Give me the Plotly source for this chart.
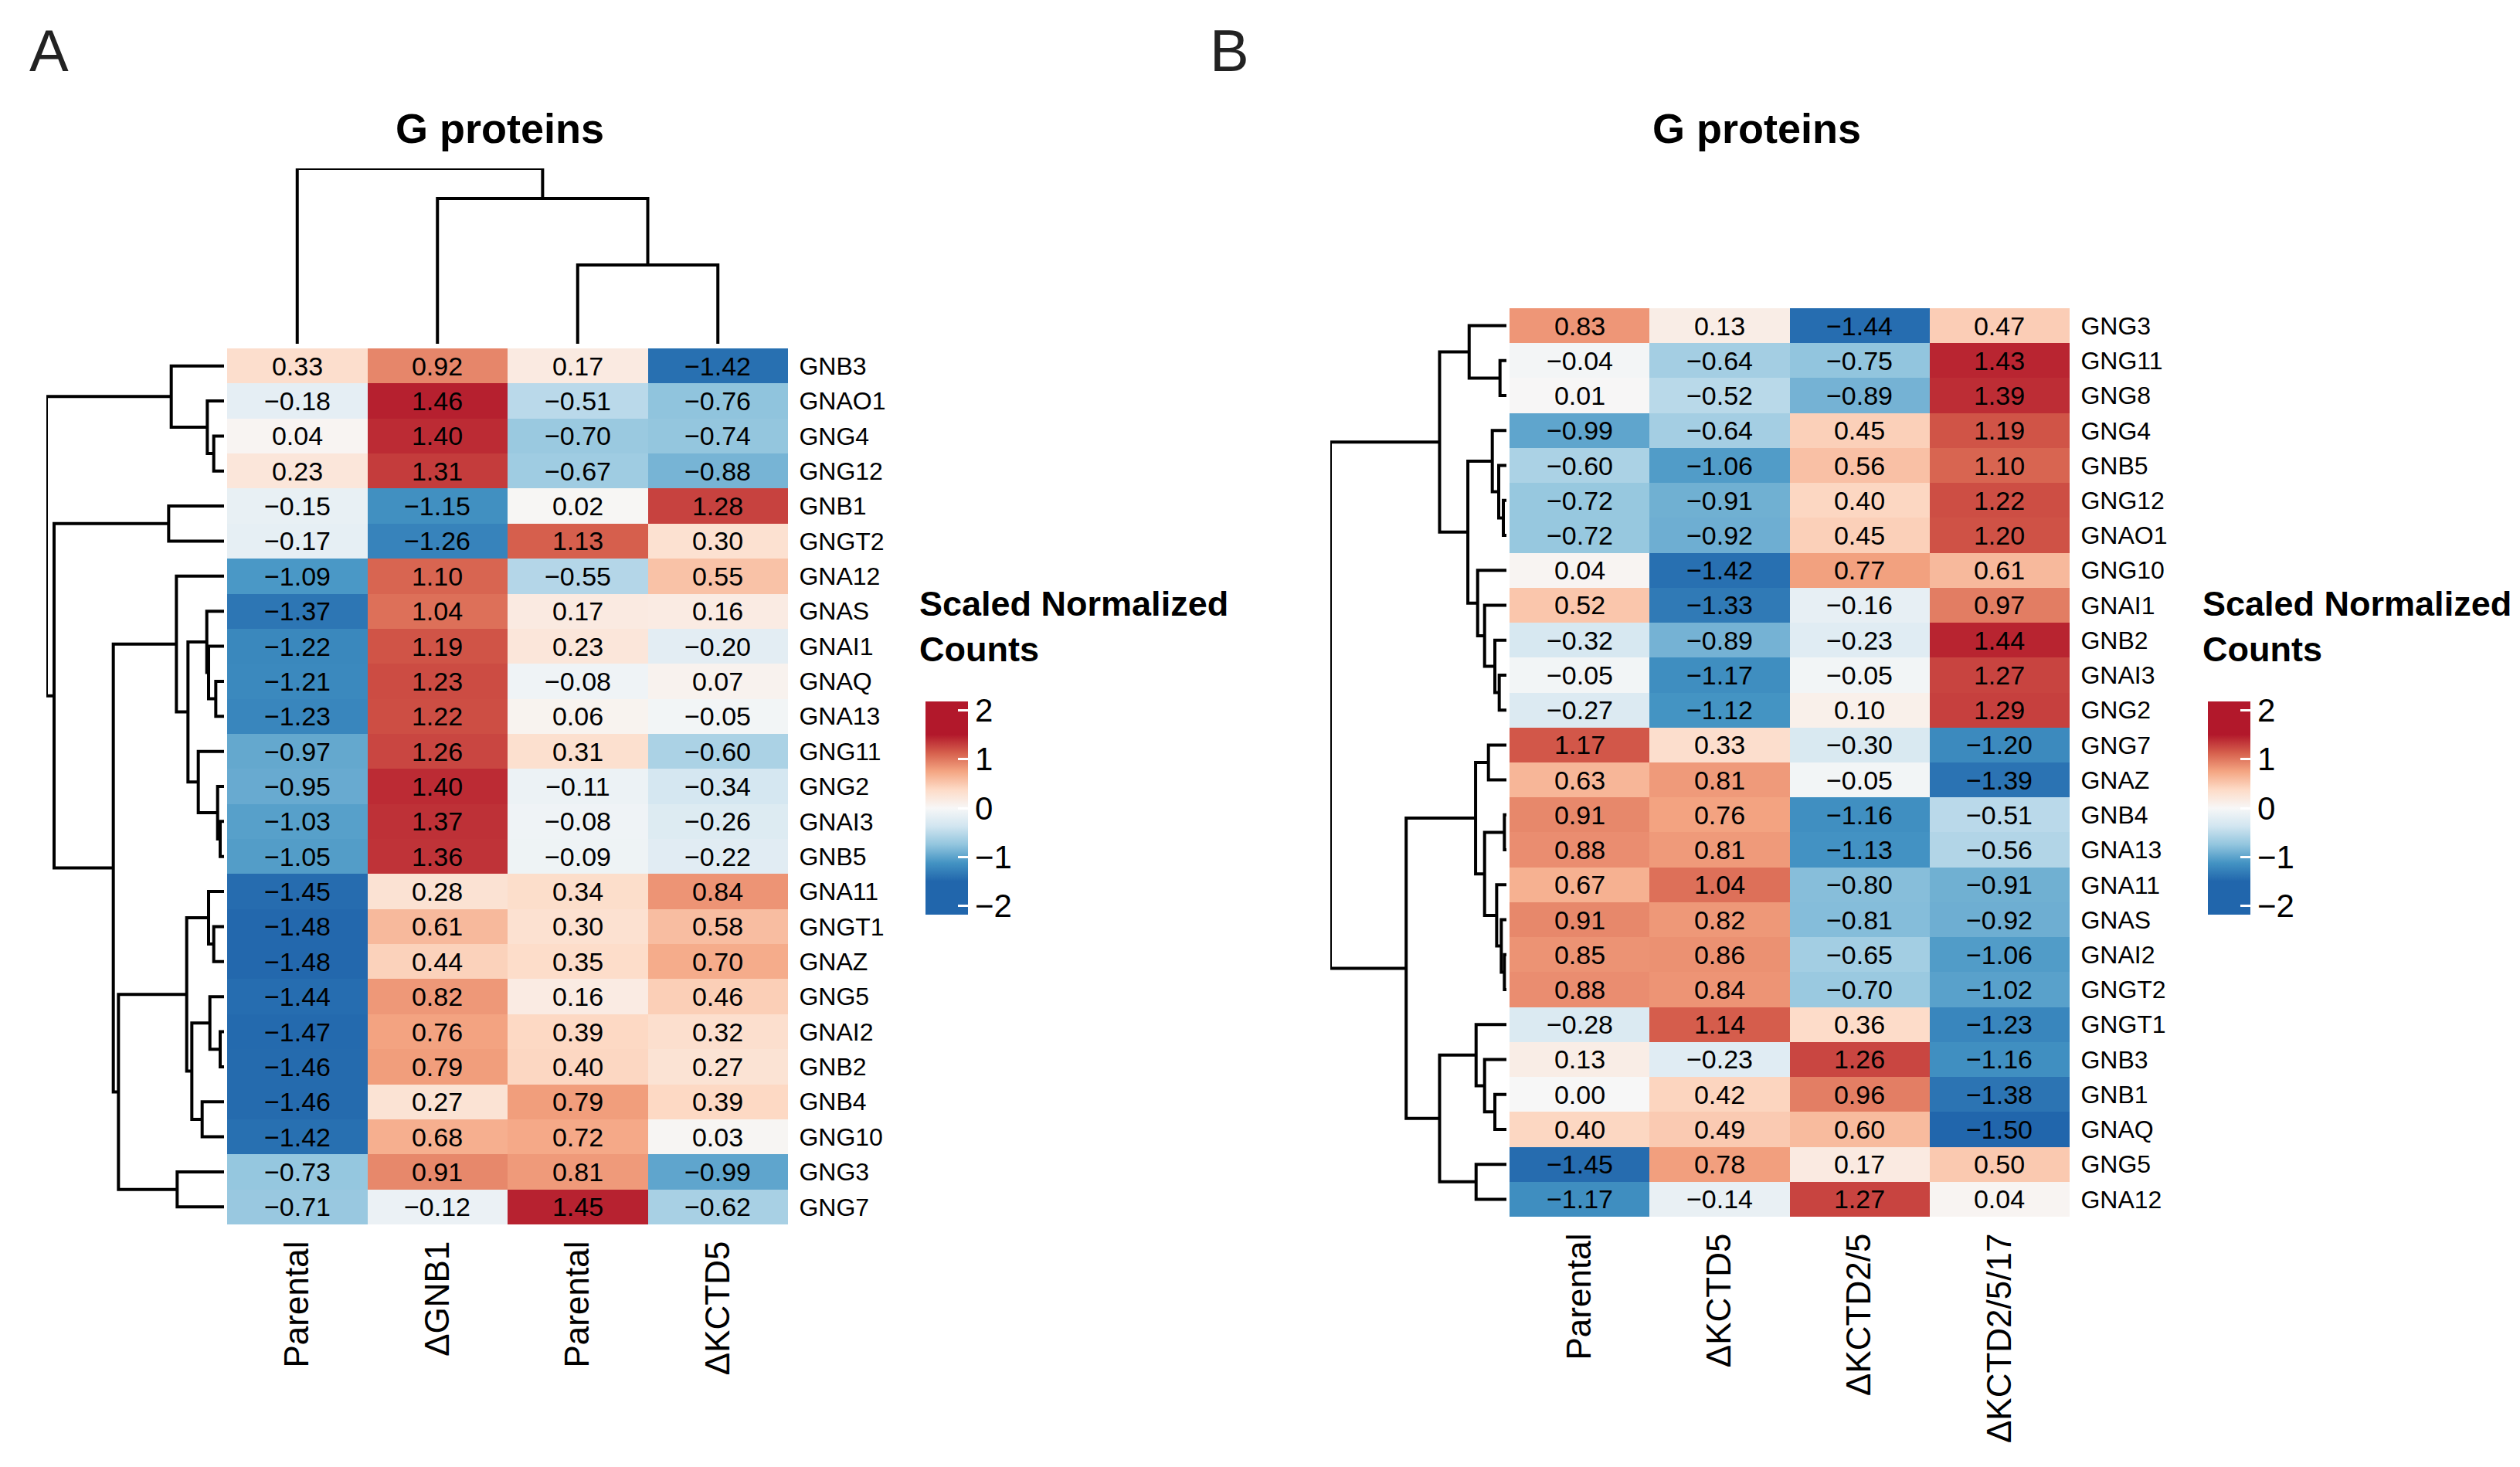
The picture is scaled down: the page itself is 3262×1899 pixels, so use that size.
import plotly.graph_objects as go

W, H = 3262, 1899
OFF = 8  # page margin of the html body, in px
FONT = "Liberation Sans, Arial, Helvetica, sans-serif"

# ---------------- Panel A data ----------------
genes_a = ["GNB3", "GNAO1", "GNG4", "GNG12", "GNB1", "GNGT2", "GNA12", "GNAS", "GNAI1",
           "GNAQ", "GNA13", "GNG11", "GNG2", "GNAI3", "GNB5", "GNA11", "GNGT1", "GNAZ",
           "GNG5", "GNAI2", "GNB2", "GNB4", "GNG10", "GNG3", "GNG7"]
samples_a = ["Parental", "ΔGNB1", "Parental", "ΔKCTD5"]
a_parental_1 = [0.33, -0.18, 0.04, 0.23, -0.15, -0.17, -1.09, -1.37, -1.22, -1.21, -1.23, -0.97,
                -0.95, -1.03, -1.05, -1.45, -1.48, -1.48, -1.44, -1.47, -1.46, -1.46, -1.42, -0.73, -0.71]
a_dgnb1 = [0.92, 1.46, 1.40, 1.31, -1.15, -1.26, 1.10, 1.04, 1.19, 1.23, 1.22, 1.26,
           1.40, 1.37, 1.36, 0.28, 0.61, 0.44, 0.82, 0.76, 0.79, 0.27, 0.68, 0.91, -0.12]
a_parental_2 = [0.17, -0.51, -0.70, -0.67, 0.02, 1.13, -0.55, 0.17, 0.23, -0.08, 0.06, 0.31,
                -0.11, -0.08, -0.09, 0.34, 0.30, 0.35, 0.16, 0.39, 0.40, 0.79, 0.72, 0.81, 1.45]
a_dkctd5 = [-1.42, -0.76, -0.74, -0.88, 1.28, 0.30, 0.55, 0.16, -0.20, 0.07, -0.05, -0.60,
            -0.34, -0.26, -0.22, 0.84, 0.58, 0.70, 0.46, 0.32, 0.27, 0.39, 0.03, -0.99, -0.62]

# dendrogram merges (child_a, child_b, height); ids >= n refer to earlier merges
row_merges_a = [(2, 3, 40), (1, 25, 65), (0, 26, 205), (4, 5, 215), (9, 10, 32), (8, 29, 60),
                (7, 30, 67), (13, 14, 15), (12, 32, 25), (11, 33, 100), (31, 34, 140),
                (6, 35, 185), (16, 17, 40), (15, 37, 60), (19, 20, 15), (18, 39, 55),
                (21, 22, 85), (40, 41, 125), (38, 42, 145), (23, 24, 182), (43, 44, 410),
                (36, 45, 430), (28, 46, 660), (27, 47, 690)]
col_merges_a = [(2, 3, 102), (1, 4, 188), (0, 5, 227)]

# ---------------- Panel B data ----------------
genes_b = ["GNG3", "GNG11", "GNG8", "GNG4", "GNB5", "GNG12", "GNAO1", "GNG10", "GNAI1", "GNB2",
           "GNAI3", "GNG2", "GNG7", "GNAZ", "GNB4", "GNA13", "GNA11", "GNAS", "GNAI2", "GNGT2",
           "GNGT1", "GNB3", "GNB1", "GNAQ", "GNG5", "GNA12"]
samples_b = ["Parental", "ΔKCTD5", "ΔKCTD2/5", "ΔKCTD2/5/17"]
b_parental = [0.83, -0.04, 0.01, -0.99, -0.60, -0.72, -0.72, 0.04, 0.52, -0.32, -0.05, -0.27, 1.17,
              0.63, 0.91, 0.88, 0.67, 0.91, 0.85, 0.88, -0.28, 0.13, 0.00, 0.40, -1.45, -1.17]
b_dkctd5 = [0.13, -0.64, -0.52, -0.64, -1.06, -0.91, -0.92, -1.42, -1.33, -0.89, -1.17, -1.12, 0.33,
            0.81, 0.76, 0.81, 1.04, 0.82, 0.86, 0.84, 1.14, -0.23, 0.42, 0.49, 0.78, -0.14]
b_dkctd25 = [-1.44, -0.75, -0.89, 0.45, 0.56, 0.40, 0.45, 0.77, -0.16, -0.23, -0.05, 0.10, -0.30,
             -0.05, -1.16, -1.13, -0.80, -0.81, -0.65, -0.70, 0.36, 1.26, 0.96, 0.60, 0.17, 1.27]
b_dkctd2517 = [0.47, 1.43, 1.39, 1.19, 1.10, 1.22, 1.20, 0.61, 0.97, 1.44, 1.27, 1.29, -1.20,
               -1.39, -0.51, -0.56, -0.91, -0.92, -1.06, -1.02, -1.23, -1.16, -1.38, -1.50, 0.50, 0.04]

row_merges_b = [(1, 2, 25), (0, 26, 145), (5, 6, 12), (4, 28, 30), (3, 29, 55), (10, 11, 28),
                (9, 31, 45), (8, 32, 85), (7, 33, 112), (30, 34, 150), (27, 35, 260),
                (12, 13, 70), (14, 15, 8), (18, 19, 8), (17, 39, 20), (16, 40, 38),
                (38, 41, 85), (37, 42, 120), (22, 23, 45), (21, 44, 85), (20, 45, 118),
                (24, 25, 118), (46, 47, 260), (43, 48, 390), (36, 49, 685)]

legend_title = "Scaled Normalized<br>Counts"
cbar_ticks = [-2, -1, 0, 1, 2]
cbar_ticktext = ["−2", "−1", "0", "1", "2"]
ZLIM = 2.18

# ---------------- helpers ----------------
def px_x(p):
    return (p - OFF) / W


def px_y(p):
    return 1 - (p - OFF) / H


def fmt(v):
    return f"{v:.2f}".replace("-", "−")


def transpose(cols):
    return [list(r) for r in zip(*cols)]


def dendro(n, merges):
    pos = {i: float(i) for i in range(n)}
    hgt = {i: 0.0 for i in range(n)}
    hs, ps = [], []
    for k, (a, b, h) in enumerate(merges):
        hs += [hgt[a], h, h, hgt[b], None]
        ps += [pos[a], pos[a], pos[b], pos[b], None]
        pos[n + k] = (pos[a] + pos[b]) / 2
        hgt[n + k] = h
    return hs, ps


def make_colorscale():
    zmin, zmax = -ZLIM, ZLIM
    pts = [(-ZLIM, "#2166AC"), (-1.5, "#2166AC"), (-1.125, "#4393C3"), (-0.75, "#92C5DE"),
           (-0.375, "#D1E5F0"), (0.0, "#F7F7F7"), (0.375, "#FDDBC7"), (0.75, "#F4A582"),
           (1.125, "#D6604D"), (1.5, "#B2182B"), (ZLIM, "#B2182B")]
    return [[(v - zmin) / (zmax - zmin), c] for v, c in pts]


CS = make_colorscale()

z_a = transpose([a_parental_1, a_dgnb1, a_parental_2, a_dkctd5])
z_b = transpose([b_parental, b_dkctd5, b_dkctd25, b_dkctd2517])
t_a = [[fmt(v) for v in r] for r in z_a]
t_b = [[fmt(v) for v in r] for r in z_b]

# pixel geometry
A_HM = dict(x0=294, x1=1020, y0=451, y1=1585)
B_HM = dict(x0=1954, x1=2679, y0=399, y1=1575)


def colorbar(xleft):
    return dict(
        x=px_x(xleft), xanchor="left", xpad=0, ypad=0,
        y=px_y(1046), yanchor="middle", lenmode="pixels", len=276,
        thickness=55, thicknessmode="pixels", outlinewidth=0,
        tickmode="array", tickvals=cbar_ticks, ticktext=cbar_ticktext,
        ticks="inside", ticklen=13, tickwidth=3, tickcolor="white",
        tickfont=dict(family=FONT, size=42, color="black"),
    )


fig = go.Figure()

CELLFONT = dict(family=FONT, size=34, color="black")
# Panel A heatmap
fig.add_trace(go.Heatmap(
    z=z_a, x=list(range(len(samples_a))), y=list(range(len(genes_a))),
    text=t_a, texttemplate="%{text}", textfont=CELLFONT,
    colorscale=CS, zmin=-ZLIM, zmax=ZLIM, xaxis="x", yaxis="y",
    colorbar=colorbar(1198), hoverinfo="z",
))
# Panel B heatmap
fig.add_trace(go.Heatmap(
    z=z_b, x=list(range(len(samples_b))), y=list(range(len(genes_b))),
    text=t_b, texttemplate="%{text}", textfont=CELLFONT,
    colorscale=CS, zmin=-ZLIM, zmax=ZLIM, xaxis="x4", yaxis="y4",
    colorbar=colorbar(2858), hoverinfo="z",
))

LINE = dict(color="black", width=4)
# Panel A row dendrogram
h, p = dendro(len(genes_a), row_merges_a)
fig.add_trace(go.Scatter(x=h, y=p, mode="lines", line=LINE, xaxis="x2", yaxis="y2",
                         hoverinfo="skip", showlegend=False))
# Panel A column dendrogram
h, p = dendro(len(samples_a), col_merges_a)
fig.add_trace(go.Scatter(x=p, y=h, mode="lines", line=LINE, xaxis="x3", yaxis="y3",
                         hoverinfo="skip", showlegend=False))
# Panel B row dendrogram
h, p = dendro(len(genes_b), row_merges_b)
fig.add_trace(go.Scatter(x=h, y=p, mode="lines", line=LINE, xaxis="x5", yaxis="y5",
                         hoverinfo="skip", showlegend=False))

hidden = dict(visible=False, showgrid=False, zeroline=False, fixedrange=True)
COLFONT = dict(family=FONT, size=44)
ROWFONT = dict(family=FONT, size=32)

fig.update_layout(
    width=W, height=H, margin=dict(l=0, r=0, t=0, b=0),
    paper_bgcolor="white", plot_bgcolor="rgba(0,0,0,0)", showlegend=False,
    font=dict(family=FONT, color="black"),
    # Panel A heatmap axes
    xaxis=dict(domain=[px_x(A_HM["x0"]), px_x(A_HM["x1"])], anchor="y",
               range=[-0.5, 3.5], tickmode="array", tickvals=list(range(4)), ticktext=samples_a,
               tickangle=-90, ticks="outside", ticklen=3, tickcolor="rgba(0,0,0,0)",
               tickfont=COLFONT, showgrid=False, zeroline=False, showline=False),
    yaxis=dict(domain=[px_y(A_HM["y1"]), px_y(A_HM["y0"])], anchor="x", side="right",
               range=[len(genes_a) - 0.5, -0.5], tickmode="array",
               tickvals=list(range(len(genes_a))), ticktext=genes_a,
               ticks="outside", ticklen=7, tickcolor="rgba(0,0,0,0)",
               tickfont=ROWFONT, showgrid=False, zeroline=False, showline=False),
    # Panel A row dendrogram
    xaxis2=dict(domain=[px_x(60), px_x(290)], anchor="y2", range=[690, 0], **hidden),
    yaxis2=dict(domain=[px_y(A_HM["y1"]), px_y(A_HM["y0"])], anchor="x2",
                range=[len(genes_a) - 0.5, -0.5], **hidden),
    # Panel A column dendrogram
    xaxis3=dict(domain=[px_x(A_HM["x0"]), px_x(A_HM["x1"])], anchor="y3", range=[-0.5, 3.5], **hidden),
    yaxis3=dict(domain=[px_y(445), px_y(218)], anchor="x3", range=[0, 227], **hidden),
    # Panel B heatmap axes
    xaxis4=dict(domain=[px_x(B_HM["x0"]), px_x(B_HM["x1"])], anchor="y4",
                range=[-0.5, 3.5], tickmode="array", tickvals=list(range(4)), ticktext=samples_b,
                tickangle=-90, ticks="outside", ticklen=3, tickcolor="rgba(0,0,0,0)",
                tickfont=COLFONT, showgrid=False, zeroline=False, showline=False),
    yaxis4=dict(domain=[px_y(B_HM["y1"]), px_y(B_HM["y0"])], anchor="x4", side="right",
                range=[len(genes_b) - 0.5, -0.5], tickmode="array",
                tickvals=list(range(len(genes_b))), ticktext=genes_b,
                ticks="outside", ticklen=7, tickcolor="rgba(0,0,0,0)",
                tickfont=ROWFONT, showgrid=False, zeroline=False, showline=False),
    # Panel B row dendrogram
    xaxis5=dict(domain=[px_x(1722), px_x(1950)], anchor="y5", range=[685, 0], **hidden),
    yaxis5=dict(domain=[px_y(B_HM["y1"]), px_y(B_HM["y0"])], anchor="x5",
                range=[len(genes_b) - 0.5, -0.5], **hidden),
)

ann = []
# panel letters
for letter, cx in (("A", 63), ("B", 1591)):
    ann.append(dict(text=letter, x=px_x(cx), y=px_y(66), xref="paper", yref="paper",
                    xanchor="center", yanchor="middle", showarrow=False,
                    font=dict(family=FONT, size=76, color="#222222")))
# titles
for cx in (647, 2274):
    ann.append(dict(text="<b>G proteins</b>", x=px_x(cx), y=px_y(166), xref="paper", yref="paper",
                    xanchor="center", yanchor="middle", showarrow=False,
                    font=dict(family=FONT, size=54, color="black")))
# legend titles
for lx in (1188, 2849):
    ann.append(dict(text="<b>" + legend_title.replace("<br>", "</b><br><b>") + "</b>",
                    x=px_x(lx), y=px_y(754), xref="paper", yref="paper",
                    xanchor="left", yanchor="top", align="left", showarrow=False,
                    font=dict(family=FONT, size=45, color="black")))
fig.update_layout(annotations=ann)

fig.write_html("out.html")
